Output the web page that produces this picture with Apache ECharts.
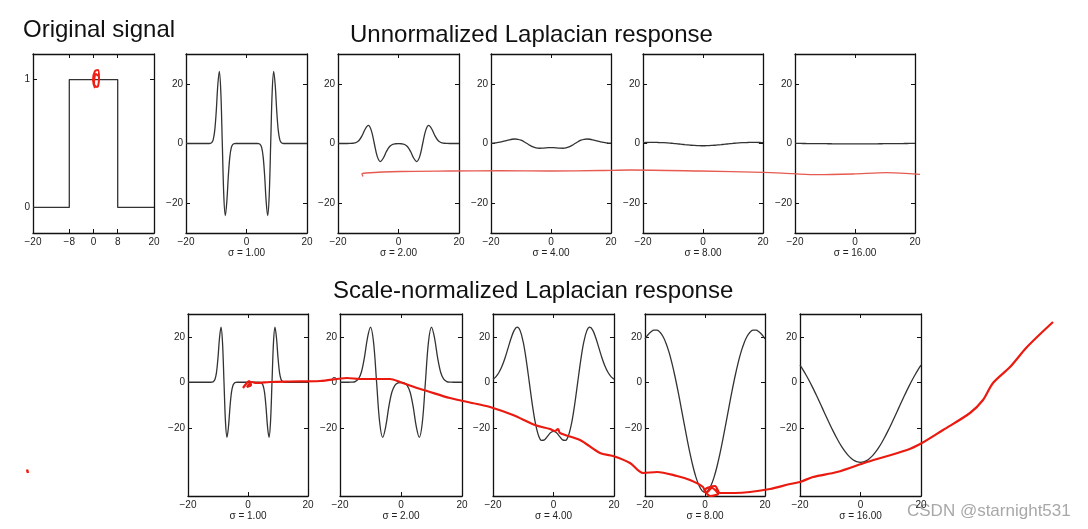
<!DOCTYPE html>
<html>
<head>
<meta charset="utf-8">
<script src="https://cdn.jsdelivr.net/npm/echarts@6/dist/echarts.min.js"></script>
<style>
html,body{margin:0;padding:0;background:#fff;}
#c{width:1088px;height:529px;}
</style>
</head>
<body>
<div id="c"></div>
<script>
// ---------- data ----------
const sigX = [-20, -8, -8, 8, 8, 20];
const sigY = [0, 0, 1, 1, 0, 0];

const xFine = [-20,-19.5,-19,-18.5,-18,-17.5,-17,-16.5,-16,-15.5,-15,-14.5,-14,-13.5,-13,-12.5,-12,-11.5,-11,-10.5,-10,-9.5,-9,-8.5,-8,-7.5,-7,-6.5,-6,-5.5,-5,-4.5,-4,-3.5,-3,-2.5,-2,-1.5,-1,-0.5,0,0.5,1,1.5,2,2.5,3,3.5,4,4.5,5,5.5,6,6.5,7,7.5,8,8.5,9,9.5,10,10.5,11,11.5,12,12.5,13,13.5,14,14.5,15,15.5,16,16.5,17,17.5,18,18.5,19,19.5,20];
const xCoarse = [-20,-19,-18,-17,-16,-15,-14,-13,-12,-11,-10,-9,-8,-7,-6,-5,-4,-3,-2,-1,0,1,2,3,4,5,6,7,8,9,10,11,12,13,14,15,16,17,18,19,20];

// sigma = 1 (same for both rows)
const resp1 = [0,0,0,0,0,0,0,0,0,0,0,0,0,0,0,0,
  0.05,0.31,1.33,4.38,10.8,19.43,24.2,17.6,0,-17.6,-24.2,-19.43,-10.8,-4.38,-1.33,-0.31,-0.05,
  0,0,0,0,0,0,0,0,0,0,0,0,0,0,0,
  -0.05,-0.31,-1.33,-4.38,-10.8,-19.43,-24.2,-17.6,0,17.6,24.2,19.43,10.8,4.38,1.33,0.31,0.05,
  0,0,0,0,0,0,0,0,0,0,0,0,0,0,0,0];

// unnormalized
const un2 = [0,0,0,0,0.01,0.08,0.33,1.10,2.70,4.86,6.05,4.40,0,-4.40,-6.05,-4.86,-2.70,-1.10,-0.33,-0.08,-0.03,
  -0.08,-0.33,-1.10,-2.70,-4.86,-6.05,-4.40,0,4.40,6.05,4.86,2.70,1.10,0.33,0.08,0.01,0,0,0,0];
const un4 = [0.08,0.16,0.27,0.45,0.68,0.94,1.21,1.43,1.51,1.41,1.10,0.60,0,-0.61,-1.12,-1.45,-1.60,-1.58,-1.49,-1.39,-1.35,
  -1.39,-1.49,-1.58,-1.60,-1.45,-1.12,-0.61,0,0.60,1.10,1.41,1.51,1.43,1.21,0.94,0.68,0.45,0.27,0.16,0.08];
const un8 = [0.30,0.33,0.35,0.36,0.36,0.34,0.31,0.27,0.21,0.13,0.04,-0.06,-0.17,-0.28,-0.39,-0.49,-0.58,-0.65,-0.71,-0.74,-0.76,
  -0.74,-0.71,-0.65,-0.58,-0.49,-0.39,-0.28,-0.17,-0.06,0.04,0.13,0.21,0.27,0.31,0.34,0.36,0.36,0.35,0.33,0.30];
const un16 = [0.03,0.02,0.01,0.00,-0.01,-0.02,-0.03,-0.04,-0.05,-0.06,-0.07,-0.08,-0.09,-0.10,-0.11,-0.12,-0.13,-0.13,-0.13,-0.14,-0.14,
  -0.14,-0.13,-0.13,-0.13,-0.12,-0.11,-0.10,-0.09,-0.08,-0.07,-0.06,-0.05,-0.04,-0.03,-0.02,-0.01,0.00,0.01,0.02,0.03];

// scale-normalized
const sn2 = [0,0,0,0.01,0.05,0.31,1.33,4.38,10.80,19.43,24.20,17.60,0,-17.60,-24.20,-19.43,-10.80,-4.38,-1.33,-0.31,-0.11,
  -0.31,-1.33,-4.38,-10.80,-19.43,-24.20,-17.60,0,17.60,24.20,19.43,10.80,4.38,1.33,0.31,0.05,0.01,0,0,0];
const sn4 = [1.33,2.50,4.38,7.14,10.80,15.10,19.43,22.83,24.20,22.58,17.59,9.65,-0.05,-9.80,-17.91,-23.24,-25.53,-25.33,-23.81,-22.24,-21.60,
  -22.24,-23.81,-25.33,-25.53,-23.24,-17.91,-9.80,-0.05,9.65,17.59,22.58,24.20,22.83,19.43,15.10,10.80,7.14,4.38,2.50,1.33];
const sn8 = [19.12,20.86,22.17,22.89,22.87,21.97,20.09,17.17,13.22,8.30,2.53,-3.92,-10.80,-17.85,-24.77,-31.26,-37.03,-41.82,-45.42,-47.64,-48.39,
  -47.64,-45.42,-41.82,-37.03,-31.26,-24.77,-17.85,-10.80,-3.92,2.53,8.30,13.22,17.17,20.09,21.97,22.87,22.89,22.17,20.86,19.12];
const sn16 = [7.49,5.45,3.20,0.77,-1.83,-4.55,-7.37,-10.26,-13.16,-16.06,-18.89,-21.61,-24.20,-26.59,-28.75,-30.65,-32.25,-33.53,-34.46,-35.02,-35.21,
  -35.02,-34.46,-33.53,-32.25,-30.65,-28.75,-26.59,-24.20,-21.61,-18.89,-16.06,-13.16,-10.26,-7.37,-4.55,-1.83,0.77,3.20,5.45,7.49];

const sigmaLabels = ['σ = 1.00', 'σ = 2.00', 'σ = 4.00', 'σ = 8.00', 'σ = 16.00'];
const sigTicksX = [-20, -8, 0, 8, 20];
const sigTicksY = [0, 1];
const respTicksX = [-20, 0, 20];
const respTicksY = [-20, 0, 20];

// hand-drawn red annotations (overlay units = page pixels)
const redTopX = [363,362,366,400,450,500,550,600,630,700,763,793,817,853,887,920];
const redTopY = [176.5,174,173,171.5,171,170.7,171,170.5,170,171,172.3,173.7,174.7,174,172.7,174.3];
const redBotX = [243,246,249,251,247,252,256,270,290,320,347,360,380,390,400,417,427,450,477,490,513,535,550,555,558,560,580,600,613,630,643,657,677,690,703,706,712,718,710,705,715,720,735,750,770,790,800,813,837,867,907,922,943,970,983,993,1010,1027,1053];
const redBotY = [388,384,381,385,387,382,383,382,381.5,381,378,379,379,379,382,388,391,398,404,407,415,425,429,431,429,433,440,453,456,463,473,472,476,480,487,493,488,494,496,490,486,493,493,492,489,484,482,477,472,462,450,443,430,413,400,383,367,347,322];
const redMarkX = [95,93,95,98,99,97,94,96,98];
const redMarkY = [88,80,71,70,78,87,84,74,76];
const redDotX = [27,28];
const redDotY = [469.5,473];

// ---------- layout ----------
const topRow = [
  {left:33, width:121}, {left:186, width:121}, {left:338, width:121},
  {left:491, width:120}, {left:643, width:120}, {left:795, width:120}
];
const botRow = [
  {left:188, width:120}, {left:340, width:122}, {left:493, width:121},
  {left:645, width:120}, {left:800, width:121}
];

const panels = [];
panels.push({g:{...topRow[0], top:54, height:179}, xs:sigX, ys:sigY, ymin:-0.2, ymax:1.2, xt:sigTicksX, yt:sigTicksY, name:''});
const unData = [resp1, un2, un4, un8, un16];
const snData = [resp1, sn2, sn4, sn8, sn16];
for (let i = 0; i < 5; i++) {
  panels.push({g:{...topRow[i+1], top:54, height:179}, xs: i===0?xFine:xCoarse, ys:unData[i], ymin:-30, ymax:30, xt:respTicksX, yt:respTicksY, name:sigmaLabels[i], smooth:true});
}
for (let i = 0; i < 5; i++) {
  panels.push({g:{...botRow[i], top:314, height:182}, xs: i===0?xFine:xCoarse, ys:snData[i], ymin:-50, ymax:30, xt:respTicksX, yt:respTicksY, name:sigmaLabels[i], smooth:true});
}

const AX = '#111';
const LBL = '#222';
const FONT = "'Liberation Sans', Arial, sans-serif";
const fmt = v => String(v).replace('-', '\u2212');

const grids = [], xAxes = [], yAxes = [], series = [];
panels.forEach((p, i) => {
  grids.push({left:p.g.left, top:p.g.top, width:p.g.width, height:p.g.height, containLabel:false});
  const tick = vals => ({show:true, inside:true, length:4, customValues:vals, lineStyle:{color:AX, width:1}});
  const line = {show:true, onZero:false, lineStyle:{color:AX, width:1.3}};
  xAxes.push({type:'value', gridIndex:i, position:'bottom', min:-20, max:20, axisLine:line,
    axisTick:tick(p.xt), splitLine:{show:false},
    axisLabel:{show:true, customValues:p.xt, formatter:fmt, fontSize:10, margin:4, color:LBL, fontFamily:FONT},
    name:p.name, nameLocation:'middle', nameGap:15,
    nameTextStyle:{fontSize:10, color:LBL, fontFamily:FONT}});
  xAxes.push({type:'value', gridIndex:i, position:'top', min:-20, max:20, axisLine:line,
    axisTick:tick(p.xt), splitLine:{show:false}, axisLabel:{show:false}});
  yAxes.push({type:'value', gridIndex:i, position:'left', min:p.ymin, max:p.ymax, axisLine:line,
    axisTick:tick(p.yt), splitLine:{show:false},
    axisLabel:{show:true, customValues:p.yt, formatter:fmt, fontSize:10, margin:3, color:LBL, fontFamily:FONT}});
  yAxes.push({type:'value', gridIndex:i, position:'right', min:p.ymin, max:p.ymax, axisLine:line,
    axisTick:tick(p.yt), splitLine:{show:false}, axisLabel:{show:false}});
  series.push({type:'line', xAxisIndex:2*i, yAxisIndex:2*i, data:p.xs.map((x,k)=>[x, p.ys[k]]),
    showSymbol:false, smooth:p.smooth ? 0.35 : false, lineStyle:{color:'#333', width:1.3}, z:3, clip:true});
});

// overlay for the hand-drawn red strokes
const ov = panels.length;
grids.push({left:0, top:0, width:1088, height:529});
xAxes.push({type:'value', gridIndex:ov, min:0, max:1088, show:false});
yAxes.push({type:'value', gridIndex:ov, min:0, max:529, inverse:true, show:false});
const ovAx = xAxes.length - 1, ovAy = yAxes.length - 1;
const zip = (xs, ys) => xs.map((x,k)=>[x, ys[k]]);
series.push({type:'line', xAxisIndex:ovAx, yAxisIndex:ovAy, data:zip(redTopX, redTopY), showSymbol:false, smooth:0.3,
  lineStyle:{color:'#e65a50', width:1.3}, z:10});
series.push({type:'line', xAxisIndex:ovAx, yAxisIndex:ovAy, data:zip(redBotX, redBotY), showSymbol:false, smooth:0.3,
  lineStyle:{color:'#ea1a10', width:2.2}, z:10});
series.push({type:'line', xAxisIndex:ovAx, yAxisIndex:ovAy, data:zip(redMarkX, redMarkY), showSymbol:false, smooth:0.4,
  lineStyle:{color:'#ee2015', width:2}, z:10});
series.push({type:'line', xAxisIndex:ovAx, yAxisIndex:ovAy, data:zip(redDotX, redDotY), showSymbol:false,
  lineStyle:{color:'#ee2015', width:2.5}, z:10});

const chart = echarts.init(document.getElementById('c'), null, {renderer:'canvas'});
chart.setOption({
  animation:false,
  backgroundColor:'#ffffff',
  grid:grids, xAxis:xAxes, yAxis:yAxes, series:series,
  graphic:[
    {type:'text', left:23, top:18, style:{text:'Original signal', fontSize:24, fontFamily:FONT, fill:'#111'}},
    {type:'text', left:350, top:23, style:{text:'Unnormalized Laplacian response', fontSize:24, fontFamily:FONT, fill:'#111'}},
    {type:'text', left:333, top:279, style:{text:'Scale-normalized Laplacian response', fontSize:24, fontFamily:FONT, fill:'#111'}},
    {type:'text', left:907, top:503, style:{text:'CSDN @starnight531', fontSize:17, fontFamily:FONT, fill:'#a8a8a8'}}
  ]
});
</script>
</body>
</html>
